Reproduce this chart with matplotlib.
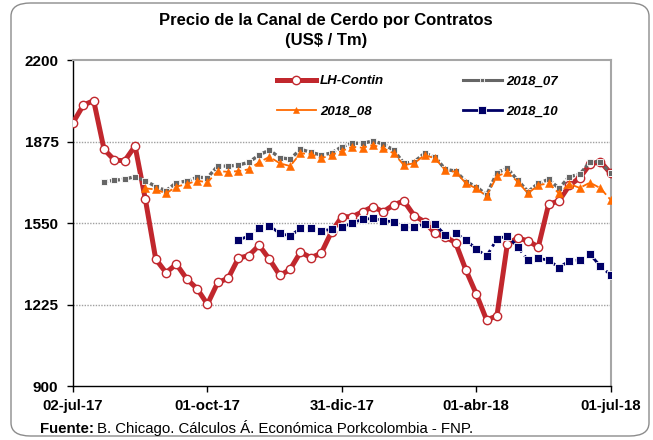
import numpy as np
import pandas as pd
import matplotlib
matplotlib.use("Agg")
import matplotlib.pyplot as plt
from matplotlib.patches import FancyBboxPatch
from matplotlib.lines import Line2D

plt.rcParams['font.family'] = ['Liberation Sans', 'DejaVu Sans']

# ---- data ----
start_date = "2017-07-02"
n_weeks = 53
nan = np.nan

lh_contin = [1950, 2020, 2038, 1844, 1801, 1798, 1857, 1644, 1406, 1352,
             1386, 1327, 1288, 1226, 1313, 1329, 1410, 1420, 1461, 1405,
             1341, 1365, 1434, 1412, 1429, 1515, 1575, 1575, 1595, 1615,
             1595, 1622, 1638, 1579, 1555, 1509, 1495, 1471, 1362, 1267,
             1163, 1180, 1465, 1491, 1478, 1455, 1625, 1638, 1700, 1730,
             1785, 1795, 1748]

s2018_07 = [nan, nan, nan, 1715, 1720, 1725, 1735, 1719, 1695, 1679,
            1711, 1717, 1732, 1731, 1777, 1777, 1781, 1792, 1821, 1841,
            1810, 1805, 1844, 1832, 1821, 1829, 1854, 1868, 1868, 1877,
            1865, 1841, 1788, 1794, 1828, 1814, 1764, 1757, 1715, 1695,
            1662, 1751, 1768, 1721, 1675, 1708, 1724, 1688, 1735, 1744,
            1794, 1794, 1748]

s2018_08 = [nan, nan, nan, nan, nan, nan, nan, 1688, 1684, 1668,
            1695, 1705, 1719, 1712, 1757, 1754, 1757, 1764, 1792, 1814,
            1788, 1777, 1828, 1825, 1808, 1821, 1837, 1854, 1850, 1861,
            1848, 1828, 1781, 1788, 1821, 1808, 1761, 1754, 1708, 1688,
            1657, 1737, 1752, 1715, 1668, 1701, 1708, 1668, 1706, 1690,
            1711, 1689, 1642]

s2018_10 = [nan, nan, nan, nan, nan, nan, nan, nan, nan, nan,
            nan, nan, nan, nan, nan, nan, 1482, 1498, 1529, 1538,
            1509, 1498, 1529, 1529, 1518, 1525, 1535, 1549, 1565, 1568,
            1559, 1555, 1533, 1535, 1545, 1545, 1502, 1509, 1482, 1446,
            1418, 1486, 1499, 1455, 1402, 1409, 1402, 1372, 1400, 1402,
            1425, 1378, 1343]

tick_dates = ["2017-07-02", "2017-10-01", "2017-12-31", "2018-04-01", "2018-07-01"]
tick_labels = ["02-jul-17", "01-oct-17", "31-dic-17", "01-abr-18", "01-jul-18"]
y_ticks = [900, 1225, 1550, 1875, 2200]
series_names = ["LH-Contin", "2018_07", "2018_08", "2018_10"]

dates = pd.date_range(start_date, periods=n_weeks, freq="7D")

# ---- figure ----
fig = plt.figure(figsize=(6.53, 4.40), dpi=100)
W, H = 653, 440
ax = fig.add_axes([73 / W, 1 - 386 / H, (610.7 - 73) / W, (386 - 60) / H])

# outer rounded frame
frame = FancyBboxPatch((11 / W, 4 / H), 638 / W, 433 / H,
                       boxstyle="round,pad=0,rounding_size=0.03",
                       transform=fig.transFigure, fill=False,
                       edgecolor="#8c8c8c", linewidth=1.0, zorder=0)
fig.patches.append(frame)

red = "#C1272D"
gray = "#666666"
orange = "#FF6A00"
navy = "#000066"

red_style = dict(color=red, lw=3.6, marker="o", ms=6.0, mfc="white", mec=red, mew=1.0)
gray_style = dict(color=gray, lw=2.4, marker="s", ms=4.0, mfc=gray, mec="white", mew=0.6)
orange_style = dict(color=orange, lw=1.3, marker="^", ms=5.2, mfc=orange, mec=orange, mew=0.4)
navy_style = dict(color=navy, lw=2.0, marker="s", ms=5.2, mfc=navy, mec="white", mew=0.6)

ax.plot(dates, lh_contin, zorder=3, solid_joinstyle="round", **red_style)
ax.plot(dates, s2018_07, ls=(0, (1.2, 0.6)), zorder=4, **gray_style)
ax.plot(dates, s2018_08, ls=(0, (4, 2)), zorder=5, **orange_style)
ax.plot(dates, s2018_10, ls=(0, (3, 1.5, 1, 1.5)), zorder=6, **navy_style)

ax.set_ylim(900, 2200)
ax.set_xlim(pd.Timestamp(tick_dates[0]), pd.Timestamp(tick_dates[-1]))
ax.set_yticks(y_ticks)
ax.set_yticklabels([str(v) for v in y_ticks], fontsize=11, fontweight="bold")
ax.set_xticks(pd.to_datetime(tick_dates))
ax.set_xticklabels(tick_labels, fontsize=10.8, fontweight="bold")
ax.tick_params(axis="both", direction="out", length=4, width=1, color="black")
ax.tick_params(axis="y", pad=6.5)
ax.tick_params(axis="x", pad=5)

for g in y_ticks[1:-1]:
    ax.axhline(g, color="#a0a0a0", lw=1.0, ls=(0, (1, 1)), zorder=1)

for s in ["left", "bottom"]:
    ax.spines[s].set_color("black")
    ax.spines[s].set_linewidth(1.0)
for s in ["top", "right"]:
    ax.spines[s].set_color("#a6a6a6")
    ax.spines[s].set_linewidth(1.5)

h_lh = Line2D([], [], ls="-", **red_style)
h_07 = Line2D([], [], ls="-", **{**gray_style, "lw": 2.2, "ms": 3.0})
h_08 = Line2D([], [], ls="-", **{**orange_style, "ms": 4.2})
h_10 = Line2D([], [], ls="-", **navy_style)

leg = ax.legend([h_lh, h_08, h_07, h_10],
                [series_names[0], series_names[2], series_names[1], series_names[3]],
                ncol=2, loc="upper left", bbox_to_anchor=(0.357, 0.99),
                frameon=False, handlelength=2.95, columnspacing=6.0,
                labelspacing=1.35, handletextpad=0.3,
                prop={"weight": "bold", "style": "italic", "size": 9.5})

fig.text(326 / W, 1 - 20 / H, "Precio de la Canal de Cerdo por Contratos",
         ha="center", va="center", fontsize=12, fontweight="bold")
fig.text(326 / W, 1 - 41 / H, "(US$ / Tm)",
         ha="center", va="center", fontsize=12, fontweight="bold")

t1 = fig.text(40 / W, 1 - 433 / H, "Fuente:", ha="left", va="baseline",
              fontsize=10.8, fontweight="bold")
fig.canvas.draw()
bb = t1.get_window_extent()
fig.text((bb.x1 + 3) / W, 1 - 433 / H,
         "B. Chicago. Cálculos Á. Económica Porkcolombia - FNP.",
         ha="left", va="baseline", fontsize=10.8)

fig.savefig("out.png", dpi=100)
